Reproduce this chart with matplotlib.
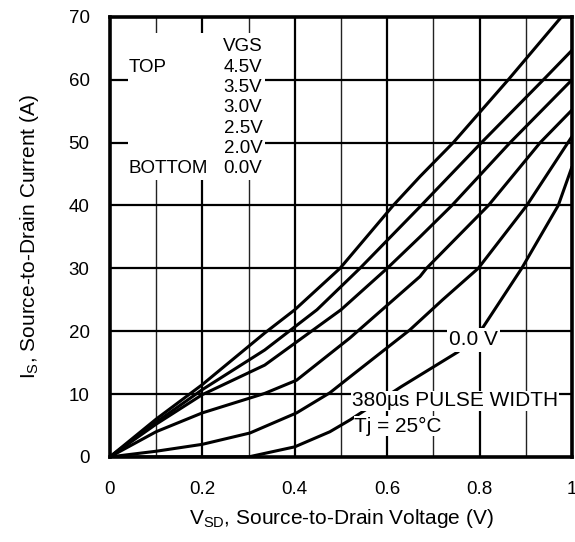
import matplotlib
matplotlib.use('Agg')
import matplotlib.pyplot as plt
from matplotlib.patches import Rectangle

plt.rcParams['font.family'] = ['Liberation Sans', 'DejaVu Sans']
plt.rcParams['mathtext.fontset'] = 'custom'
plt.rcParams['mathtext.rm'] = 'Liberation Sans'

# curves, one per VGS
vsd_45 = [0, 0.1, 0.2, 0.335, 0.4, 0.498, 0.613, 0.671, 0.743, 0.862, 0.977]
isd_45 = [0, 6.0, 11.5, 19.7, 23.4, 30, 40, 44.6, 50, 60, 70]

vsd_35 = [0, 0.1, 0.2, 0.335, 0.448, 0.541, 0.671, 0.804, 0.938, 1.0]
isd_35 = [0, 5.5, 10.7, 17.0, 23.4, 30, 39.8, 50, 60, 64.7]

vsd_30 = [0, 0.1, 0.2, 0.335, 0.5, 0.6, 0.671, 0.74, 0.866, 1.0]
isd_30 = [0, 5.2, 9.9, 14.6, 23.4, 30, 35, 40, 50, 60]

vsd_25 = [0, 0.1, 0.2, 0.335, 0.404, 0.519, 0.671, 0.685, 0.819, 0.931, 1.0]
isd_25 = [0, 4.0, 7.0, 10.1, 12.2, 18.9, 28.7, 30, 40, 50, 55.2]

vsd_20 = [0, 0.1, 0.2, 0.303, 0.404, 0.476, 0.519, 0.649, 0.72, 0.797, 0.902, 1.0]
isd_20 = [0, 0.9, 2.0, 3.8, 7.0, 10.2, 12.7, 20.2, 25, 30, 40, 51]

vsd_00 = [0, 0.3, 0.4, 0.476, 0.52, 0.631, 0.753, 0.808, 0.891, 0.97, 1.0]
isd_00 = [0, 0, 1.6, 4.0, 5.9, 11.2, 16.7, 20.7, 30, 40, 46.2]

vgs_labels = ['VGS', '4.5V', '3.5V', '3.0V', '2.5V', '2.0V', '0.0V']
x_ticks = [0, 0.2, 0.4, 0.6, 0.8, 1.0]
x_ticklabels = ['0', '0.2', '0.4', '0.6', '0.8', '1']
y_ticks = [0, 10, 20, 30, 40, 50, 60, 70]

fig = plt.figure(figsize=(5.75, 5.42), dpi=100)
ax = fig.add_axes([0.191, 0.157, 0.804, 0.812])

# grid: heavy every 0.2 V and 10 A, light every 0.1 V
for x in [0.1, 0.3, 0.5, 0.7, 0.9]:
    ax.axvline(x, color='#222222', lw=1.0, zorder=1)
for x in [0.2, 0.4, 0.6, 0.8]:
    ax.axvline(x, color='black', lw=1.6, zorder=1)
for y in y_ticks[1:-1]:
    ax.axhline(y, color='black', lw=1.6, zorder=1)

for v, i in [(vsd_45, isd_45), (vsd_35, isd_35), (vsd_30, isd_30),
             (vsd_25, isd_25), (vsd_20, isd_20), (vsd_00, isd_00)]:
    ax.plot(v, i, color='black', lw=2.2, zorder=3, solid_capstyle='butt',
            solid_joinstyle='round')

ax.set_xlim(0, 1)
ax.set_ylim(0, 70)
ax.set_xticks(x_ticks)
ax.set_xticklabels(x_ticklabels)
ax.set_yticks(y_ticks)
ax.tick_params(length=0, labelsize=13.5)
ax.tick_params(axis='x', pad=17)
ax.tick_params(axis='y', pad=14.5)
for s in ax.spines.values():
    s.set_linewidth(2.6)
    s.set_zorder(5)

# legend block in the upper left
ax.add_patch(Rectangle((0.04, 44.1), 0.295, 23.4, facecolor='white',
                       edgecolor='none', zorder=2))
step = 3.23
for k, lab in enumerate(vgs_labels):
    ax.text(0.33, 65.2 - k * step, lab, ha='right', va='center',
            fontsize=13.5, zorder=4)
ax.text(0.041, 65.2 - step, 'TOP', ha='left', va='center', fontsize=13.5, zorder=4)
ax.text(0.041, 65.2 - 6 * step, 'BOTTOM', ha='left', va='center', fontsize=13.5, zorder=4)

ax.text(0.786, 18.6, '0.0 V', ha='center', va='center', fontsize=15, zorder=4,
        bbox=dict(facecolor='white', edgecolor='none', pad=1.5))
ax.text(0.524, 8.9, '380µs PULSE WIDTH', ha='left', va='center', fontsize=15,
        zorder=4, bbox=dict(facecolor='white', edgecolor='none', pad=0.5))
ax.text(0.529, 4.9, 'Tj = 25°C', ha='left', va='center', fontsize=15,
        zorder=4, bbox=dict(facecolor='white', edgecolor='none', pad=0.5))

ax.set_xlabel('$\\mathregular{V_{SD}}$, Source-to-Drain Voltage (V)', fontsize=15, labelpad=7)
ax.set_ylabel('$\\mathregular{I_S}$, Source-to-Drain Current (A)', fontsize=15, labelpad=20)

fig.savefig('out.png', dpi=100)
